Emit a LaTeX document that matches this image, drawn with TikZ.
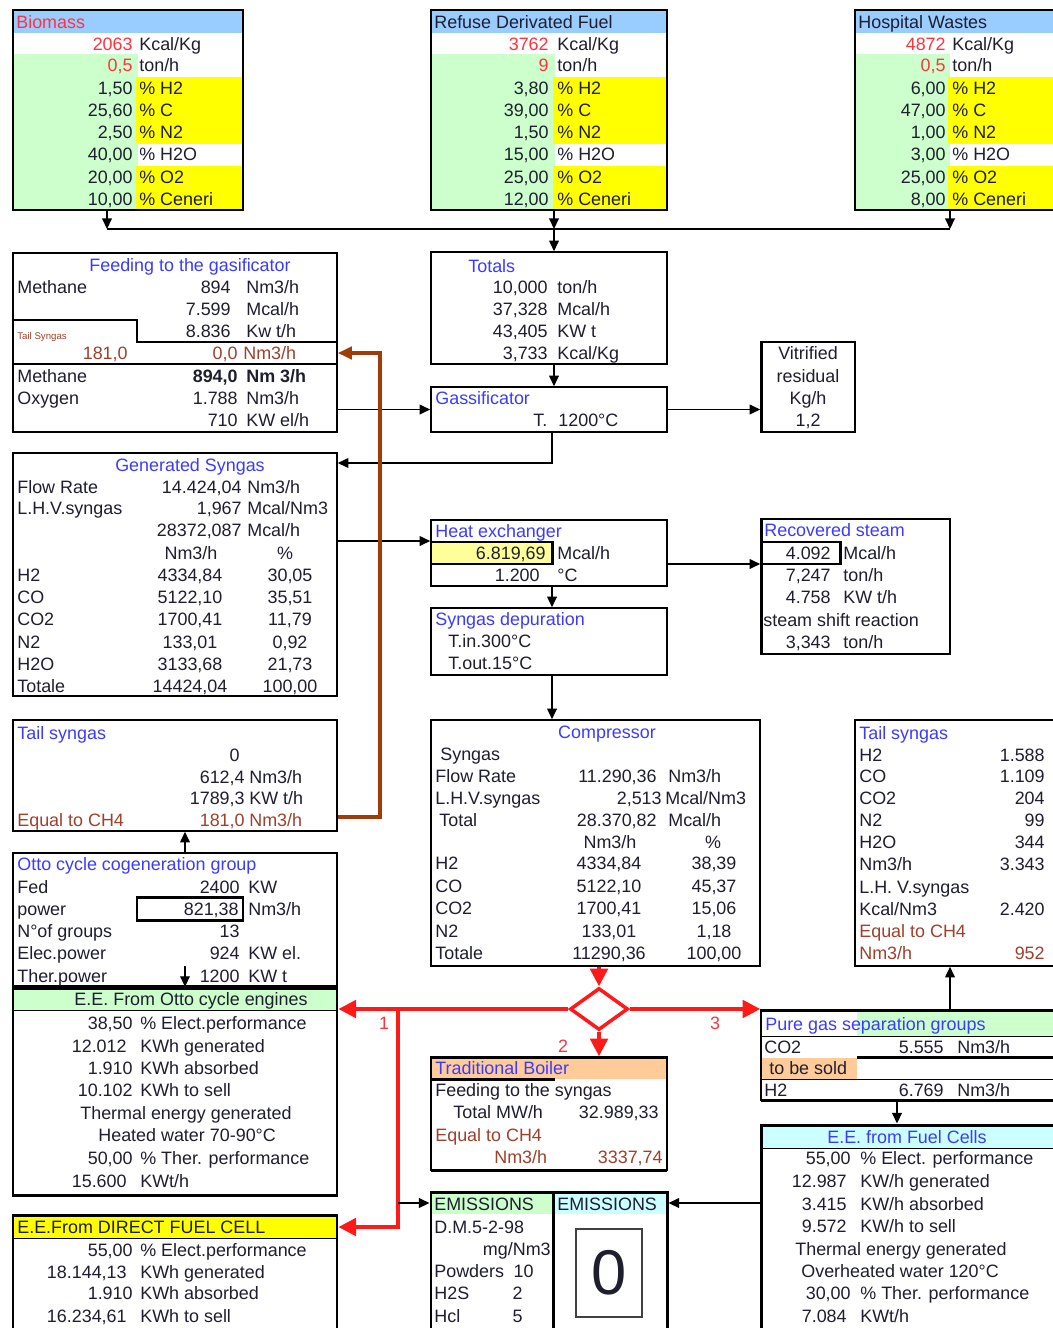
\documentclass[tikz,border=0pt]{standalone}
\usepackage{fontspec}
\setmainfont{Liberation Sans}
\usetikzlibrary{arrows.meta,fit,shapes.geometric}
\definecolor{ink}{HTML}{1E1E2E}
\definecolor{tblue}{HTML}{3B3BFF}
\definecolor{tred}{HTML}{FF3340}
\definecolor{tbrown}{HTML}{A0402A}
\definecolor{hdblue}{HTML}{99CCFF}
\definecolor{lgreen}{HTML}{CCFFCC}
\definecolor{ylw}{HTML}{FFFF00}
\definecolor{lylw}{HTML}{FFFF99}
\definecolor{lorange}{HTML}{FFCC99}
\definecolor{lcyan}{HTML}{CCFFFF}
\definecolor{pipe}{HTML}{A03C0A}
\definecolor{flow}{HTML}{FF1A1A}
\newcommand\fs{\fontsize{10.2}{11}\selectfont}
\newcounter{tn}
% text label: style, position, text
\newcommand\tlab[3]{\stepcounter{tn}\node[#1] (t\arabic{tn}) at (#2) {#3};}
% value/unit pair: [style] value-right-x, unit-left-x, y, value, unit
\newcommand\rw[6][]{\tlab{rgt,#1}{#2,#4}{#5}\tlab{lft,#1}{#3,#4}{#6}}
% three-column row: label-x, col1-x, col2-x, y, label, col1, col2
\newcommand\rwthree[7]{\tlab{lft}{#1,#4}{#5}\tlab{ctr}{#2,#4}{#6}\tlab{ctr}{#3,#4}{#7}}
% framed box: [style] name, corner, corner
\newcommand\bx[4][]{\node[box,#1,fit={(#3) (#4)}] (#2) {};}
\tikzset{
  txtbase/.style={inner sep=0pt, font=\fs, text=ink, yshift=-1pt},
  lft/.style={txtbase, anchor=mid west},
  rgt/.style={txtbase, anchor=mid east},
  ctr/.style={txtbase, anchor=mid},
  blu/.style={text=tblue},
  rd/.style={text=tred},
  brn/.style={text=tbrown},
  box/.style={draw=black, line width=0.9pt, inner sep=0pt},
  heavy/.style={line width=1.7pt},
  arr/.style={draw=black, line width=0.8pt, -{Triangle[length=6pt,width=5.5pt]}},
  redarr/.style={draw=flow, line width=2pt, -{Triangle[length=10pt,width=10pt]}},
  pipearr/.style={draw=pipe, line width=2pt, -{Triangle[length=8pt,width=7pt]}}
}
\begin{document}
\begin{tikzpicture}[x=0.02cm, y=-0.02cm]
\useasboundingbox (0,0) rectangle (1052,1328);
\fill[white] (0,0) rectangle (1052,1328);

% ---------- fuel sources ----------
\fill[hdblue] (13,10) rectangle (243,33);
\fill[lgreen] (13,54) rectangle (138,210);
\fill[ylw] (136,77) rectangle (243,144);
\fill[ylw] (136,166) rectangle (243,210);
\bx{bio}{13,10}{243,210}
\tlab{lft,rd}{16,22}{Biomass}
\tlab{rgt,rd}{133,44}{2063}\tlab{lft}{139,44}{Kcal/Kg}
\tlab{rgt,rd}{133,65}{0,5}\tlab{lft}{139,65}{ton/h}
\rw{133}{139}{88}{1,50}{\% H2}
\rw{133}{139}{110}{25,60}{\% C}
\rw{133}{139}{132}{2,50}{\% N2}
\rw{133}{139}{154}{40,00}{\% H2O}
\rw{133}{139}{177}{20,00}{\% O2}
\rw{133}{139}{199}{10,00}{\% Ceneri}

\fill[hdblue] (431,10) rectangle (667,33);
\fill[lgreen] (431,54) rectangle (555,210);
\fill[ylw] (553,77) rectangle (667,144);
\fill[ylw] (553,166) rectangle (667,210);
\bx{rdf}{431,10}{667,210}
\tlab{lft}{434,22}{Refuse Derivated Fuel}
\tlab{rgt,rd}{549,44}{3762}\tlab{lft}{557,44}{Kcal/Kg}
\tlab{rgt,rd}{549,65}{9}\tlab{lft}{557,65}{ton/h}
\rw{549}{557}{88}{3,80}{\% H2}
\rw{549}{557}{110}{39,00}{\% C}
\rw{549}{557}{132}{1,50}{\% N2}
\rw{549}{557}{154}{15,00}{\% H2O}
\rw{549}{557}{177}{25,00}{\% O2}
\rw{549}{557}{199}{12,00}{\% Ceneri}

\fill[hdblue] (855,10) rectangle (1060,33);
\fill[lgreen] (855,54) rectangle (950,210);
\fill[ylw] (948,77) rectangle (1060,144);
\fill[ylw] (948,166) rectangle (1060,210);
\bx{hosp}{855,10}{1060,210}
\tlab{lft}{858,22}{Hospital Wastes}
\tlab{rgt,rd}{946,44}{4872}\tlab{lft}{952,44}{Kcal/Kg}
\tlab{rgt,rd}{946,65}{0,5}\tlab{lft}{952,65}{ton/h}
\rw{946}{952}{88}{6,00}{\% H2}
\rw{946}{952}{110}{47,00}{\% C}
\rw{946}{952}{132}{1,00}{\% N2}
\rw{946}{952}{154}{3,00}{\% H2O}
\rw{946}{952}{177}{25,00}{\% O2}
\rw{946}{952}{199}{8,00}{\% Ceneri}

% ---------- feeding to the gasificator ----------
\bx{feed}{13,253}{337,432}
\draw[heavy] (13,253) -- (337,253);
\draw[heavy] (13,320) -- (137,320) -- (137,342) -- (337,342);
\draw[line width=0.9pt] (13,364) -- (337,364);
\tlab{ctr,blu}{190,265}{Feeding to the gasificator}
\tlab{lft}{17,287}{Methane}
\rw{231}{246}{287}{894}{Nm3/h}
\rw{231}{246}{309}{7.599}{Mcal/h}
\rw{231}{246}{331}{8.836}{Kw t/h}
\tlab{lft,brn,font={\fontsize{5.5}{6}\selectfont}}{17,333}{Tail Syngas}
\tlab{rgt,brn}{128,353}{181,0}
\rw[brn]{238}{243}{353}{0,0}{Nm3/h}
\tlab{lft}{17,376}{Methane}
\rw[font=\fs\bfseries]{238}{246}{376}{894,0}{Nm 3/h}
\tlab{lft}{17,398}{Oxygen}
\rw{238}{246}{398}{1.788}{Nm3/h}
\rw{238}{246}{420}{710}{KW el/h}

% ---------- totals / gassificator / residual ----------
\bx{tot}{431,252}{667,364}
\draw[heavy] (431,252) -- (667,252);
\tlab{lft,blu}{468,266}{Totals}
\rw{548}{557}{287}{10,000}{ton/h}
\rw{548}{557}{309}{37,328}{Mcal/h}
\rw{548}{557}{331}{43,405}{KW t}
\rw{548}{557}{353}{3,733}{Kcal/Kg}

\bx{gas}{431,387}{667,432}
\tlab{lft,blu}{435,398}{Gassificator}
\tlab{lft}{533,420}{T.}\tlab{lft}{558,420}{1200°C}

\bx{vit}{761,342}{855,432}
\draw[heavy] (761,432) -- (761,342) -- (855,342);
\tlab{ctr}{808,353}{Vitrified}
\tlab{ctr}{808,376}{residual}
\tlab{ctr}{808,398}{Kg/h}
\tlab{ctr}{808,420}{1,2}

% ---------- generated syngas ----------
\bx{gen}{13,453}{337,696}
\tlab{ctr,blu}{190,465}{Generated Syngas}
\tlab{lft}{17,487}{Flow Rate}\rw{242}{247}{487}{14.424,04}{Nm3/h}
\tlab{lft}{17,508}{L.H.V.syngas}\rw{242}{247}{508}{1,967}{Mcal/Nm3}
\rw{242}{247}{530}{28372,087}{Mcal/h}
\tlab{ctr}{191,553}{Nm3/h}\tlab{ctr}{285,553}{\%}
\rwthree{17}{190}{290}{575}{H2}{4334,84}{30,05}
\rwthree{17}{190}{290}{597}{CO}{5122,10}{35,51}
\rwthree{17}{190}{290}{619}{CO2}{1700,41}{11,79}
\rwthree{17}{190}{290}{642}{N2}{133,01}{0,92}
\rwthree{17}{190}{290}{664}{H2O}{3133,68}{21,73}
\rwthree{17}{190}{290}{686}{Totale}{14424,04}{100,00}

% ---------- heat exchanger / steam / depuration ----------
\fill[lylw] (431,542) rectangle (552,564);
\bx{hx}{431,520}{667,586}
\draw[heavy] (431,542) rectangle (552,564);
\tlab{lft,blu}{435,531}{Heat exchanger}
\rw{546}{557}{553}{6.819,69}{Mcal/h}
\rw{540}{557}{575}{1.200}{°C}

\bx{steam}{761,519}{950,654}
\draw[heavy] (761,519) -- (761,654);
\draw[heavy] (761,542) rectangle (840,564);
\tlab{lft,blu}{764,530}{Recovered steam}
\rw{831}{843}{553}{4.092}{Mcal/h}
\rw{831}{843}{575}{7,247}{ton/h}
\rw{831}{843}{597}{4.758}{KW t/h}
\tlab{lft}{763,620}{steam shift reaction}
\rw{831}{843}{642}{3,343}{ton/h}

\bx{dep}{431,608}{667,675}
\tlab{lft,blu}{435,619}{Syngas depuration}
\tlab{lft}{448,641}{T.in.300°C}
\tlab{lft}{448,663}{T.out.15°C}

% ---------- compressor ----------
\bx{comp}{431,720}{760,966}
\tlab{ctr,blu}{607,732}{Compressor}
\tlab{lft}{440,754}{Syngas}
\tlab{lft}{435,776}{Flow Rate}\rw{657}{668}{776}{11.290,36}{Nm3/h}
\tlab{lft}{435,798}{L.H.V.syngas}\rw{662}{665}{798}{2,513}{Mcal/Nm3}
\tlab{lft}{439,820}{Total}\rw{657}{668}{820}{28.370,82}{Mcal/h}
\tlab{ctr}{610,842}{Nm3/h}\tlab{ctr}{713,842}{\%}
\rwthree{435}{609}{714}{863}{H2}{4334,84}{38,39}
\rwthree{435}{609}{714}{886}{CO}{5122,10}{45,37}
\rwthree{435}{609}{714}{908}{CO2}{1700,41}{15,06}
\rwthree{435}{609}{714}{931}{N2}{133,01}{1,18}
\rwthree{435}{609}{714}{953}{Totale}{11290,36}{100,00}

% ---------- tail syngas (left) and Otto group ----------
\bx{tailL}{13,720}{337,831}
\tlab{lft,blu}{17,733}{Tail syngas}
\tlab{rgt}{240,755}{0}
\rw{245}{249}{777}{612,4}{Nm3/h}
\rw{245}{249}{798}{1789,3}{KW t/h}
\tlab{lft,brn}{17,820}{Equal to CH4}
\rw[brn]{245}{249}{820}{181,0}{Nm3/h}

\bx{otto}{13,853}{337,986}
\draw[heavy] (137,897) rectangle (243,920);
\tlab{lft,blu}{17,864}{Otto cycle cogeneration group}
\tlab{lft}{17,887}{Fed}\rw{240}{248}{887}{2400}{KW}
\tlab{lft}{17,909}{power}\rw{239}{248}{909}{821,38}{Nm3/h}
\tlab{lft}{17,931}{N°of groups}\tlab{rgt}{240,931}{13}
\tlab{lft}{17,953}{Elec.power}\rw{240}{248}{953}{924}{KW el.}
\tlab{lft}{17,976}{Ther.power}\rw{240}{248}{976}{1200}{KW t}

% ---------- tail syngas (right) ----------
\bx{tailR}{855,720}{1060,966}
\tlab{lft,blu}{859,733}{Tail syngas}
\tlab{lft}{859,755}{H2}\tlab{rgt}{1045,755}{1.588}
\tlab{lft}{859,776}{CO}\tlab{rgt}{1045,776}{1.109}
\tlab{lft}{859,798}{CO2}\tlab{rgt}{1045,798}{204}
\tlab{lft}{859,820}{N2}\tlab{rgt}{1045,820}{99}
\tlab{lft}{859,842}{H2O}\tlab{rgt}{1045,842}{344}
\tlab{lft}{859,864}{Nm3/h}\tlab{rgt}{1045,864}{3.343}
\tlab{lft}{859,887}{L.H. V.syngas}
\tlab{lft}{859,909}{Kcal/Nm3}\tlab{rgt}{1045,909}{2.420}
\tlab{lft,brn}{859,931}{Equal to CH4}
\tlab{lft,brn}{859,953}{Nm3/h}\tlab{rgt,brn}{1045,953}{952}

% ---------- electric energy from Otto engines ----------
\fill[lgreen] (13,990) rectangle (337,1010);
\bx[heavy]{eeotto}{13,988}{337,1195}
\draw (13,1010) -- (337,1010);
\tlab{ctr}{191,999}{E.E. From Otto cycle engines}
\rw{133}{140}{1023}{38,50}{\% Elect.performance}
\rw{127}{140}{1046}{12.012}{KWh generated}
\rw{133}{140}{1068}{1.910}{KWh absorbed}
\rw{133}{140}{1090}{10.102}{KWh to sell}
\tlab{lft}{80,1113}{Thermal energy generated}
\tlab{lft}{98,1135}{Heated water 70-90°C}
\rw{133}{140}{1158}{50,00}{\% Ther. performance}
\rw{127}{140}{1181}{15.600}{KWt/h}

% ---------- electric energy from direct fuel cell ----------
\fill[ylw] (13,1217) rectangle (337,1238);
\bx[heavy]{eedfc}{13,1215}{337,1335}
\draw (13,1238) -- (337,1238);
\tlab{lft}{17,1227}{E.E.From DIRECT FUEL CELL}
\rw{133}{140}{1250}{55,00}{\% Elect.performance}
\rw{127}{140}{1272}{18.144,13}{KWh generated}
\rw{133}{140}{1293}{1.910}{KWh absorbed}
\rw{127}{140}{1316}{16.234,61}{KWh to sell}

% ---------- traditional boiler ----------
\fill[lorange] (431,1058) rectangle (667,1079);
\bx{boiler}{431,1057}{667,1170}
\draw[heavy] (431,1057) -- (667,1057);
\draw[heavy] (431,1079) -- (555,1079);
\draw[heavy] (431,1170) -- (667,1170);
\tlab{lft,blu}{435,1068}{Traditional Boiler}
\tlab{lft}{435,1090}{Feeding to the syngas}
\tlab{lft}{453,1112}{Total MW/h}\tlab{rgt}{659,1112}{32.989,33}
\tlab{lft,brn}{435,1135}{Equal to CH4}
\tlab{lft,brn}{494,1157}{Nm3/h}\tlab{rgt,brn}{663,1157}{3337,74}

% ---------- pure gas separation ----------
\fill[lgreen] (857,1011) rectangle (1060,1036);
\fill[lorange] (761,1058) rectangle (857,1079);
\bx{pure}{761,1010}{1060,1100}
\draw[heavy] (761,1010) -- (1060,1010);
\draw (761,1036) -- (1060,1036);
\draw[heavy] (857,1057) -- (1060,1057);
\draw (761,1079) -- (1060,1079);
\draw[heavy] (761,1100) -- (1060,1100);
\tlab{lft,blu}{765,1024}{Pure gas separation groups}
\tlab{lft}{764,1047}{CO2}\rw{944}{957}{1047}{5.555}{Nm3/h}
\tlab{lft}{769,1068}{to be sold}
\tlab{lft}{764,1090}{H2}\rw{944}{957}{1090}{6.769}{Nm3/h}

% ---------- electric energy from fuel cells ----------
\fill[lcyan] (761,1127) rectangle (1060,1148);
\bx[heavy]{eefc}{761,1125}{1060,1335}
\draw (761,1148) -- (1060,1148);
\tlab{ctr,blu}{907,1137}{E.E. from Fuel Cells}
\rw{851}{860}{1158}{55,00}{\% Elect. performance}
\rw{847}{860}{1181}{12.987}{KW/h generated}
\rw{847}{860}{1204}{3.415}{KW/h absorbed}
\rw{847}{860}{1226}{9.572}{KW/h to sell}
\tlab{lft}{795,1249}{Thermal energy generated}
\tlab{lft}{801,1271}{Overheated water 120°C}
\rw{851}{860}{1293}{30,00}{\% Ther. performance}
\rw{847}{860}{1316}{7.084}{KWt/h}

% ---------- emissions ----------
\fill[lgreen] (431,1193) rectangle (553,1214);
\fill[lcyan] (553,1193) rectangle (667,1214);
\bx[heavy]{emL}{431,1192}{553,1335}
\bx[heavy]{emR}{553,1192}{667,1335}
\tlab{lft}{434,1204}{EMISSIONS}
\tlab{lft}{557,1204}{EMISSIONS}
\tlab{lft}{434,1227}{D.M.5-2-98}
\tlab{rgt}{551,1249}{mg/Nm3}
\tlab{lft}{434,1271}{Powders}\tlab{rgt}{534,1271}{10}
\tlab{lft}{434,1293}{H2S}\tlab{rgt}{523,1293}{2}
\tlab{lft}{434,1316}{Hcl}\tlab{rgt}{523,1316}{5}
\node[draw=black!75, line width=0.8pt, inner sep=0pt, fit={(576,1229) (642,1317)}] (zero) {};
\node[inner sep=0pt, text=ink, font={\fontsize{36}{40}\selectfont}] (zerotxt) at (zero.center) {0};

% ---------- splitter ----------
\node[diamond, draw=flow, fill=white, line width=2pt, inner sep=0pt,
      minimum width=1.16cm, minimum height=0.84cm] (split) at (599,1009) {};
\tlab{ctr,rd}{384,1023}{1}
\tlab{ctr,rd}{563,1046}{2}
\tlab{ctr,rd}{715,1023}{3}

% ---------- connectors ----------
\coordinate (busL) at (107,229);
\coordinate (busM) at (554,229);
\coordinate (busR) at (950,229);
\draw[line width=0.9pt] (busL) -- (busR);
\draw[arr] (bio.south -| busL) -- (busL);
\draw[arr] (rdf.south -| busM) -- (busM);
\draw[arr] (hosp.south -| busR) -- (busR);
\draw[arr] (busM) -- (tot.north -| busM);
\draw[arr] (tot.south -| busM) -- (gas.north -| busM);
\draw[arr] (feed.east |- gas.west) -- (gas.west);
\draw[arr] (gas.east) -- (gas.east -| vit.west);
\coordinate (g1) at (552,463);
\draw[arr] (gas.south -| g1) -- (g1) -- (gen.east |- g1);
\coordinate (g2) at (0,541);
\draw[arr] (gen.east |- g2) -- (hx.west |- g2);
\coordinate (g3) at (0,564);
\draw[arr] (hx.east |- g3) -- (steam.west |- g3);
\coordinate (g4) at (552,0);
\draw[arr] (hx.south -| g4) -- (dep.north -| g4);
\draw[arr] (dep.south -| g4) -- (comp.north -| g4);
\coordinate (g5) at (185,0);
\draw[arr] (otto.north -| g5) -- (tailL.south -| g5);
\coordinate (g6) at (185,966);
\draw[arr] (g6) -- (otto.south -| g6);
\coordinate (g7) at (0,817);
\coordinate (g8) at (380,353);
\draw[pipearr] (tailL.east |- g7) -| (g8) -- (feed.east |- g8);
\coordinate (g9) at (950,0);
\draw[arr] (pure.north -| g9) -- (tailR.south -| g9);
\coordinate (g10) at (897,0);
\draw[arr] (pure.south -| g10) -- (eefc.north -| g10);

\draw[redarr] (comp.south -| split) -- (split.north);
\draw[redarr] (split.west) -- (split.west -| eeotto.east);
\coordinate (r1) at (398,1009);
\coordinate (r2) at (398,1227);
\draw[redarr] (r1) -- (r2) -- (eedfc.east |- r2);
\draw[redarr] (split.south) -- (split.south |- boiler.north);
\draw[redarr] (split.east) -- (split.east -| pure.west);
\coordinate (r3) at (398,1203);
\draw[arr] (r3) -- (emL.west |- r3);
\draw[arr] (eefc.west |- r3) -- (emR.east |- r3);
\end{tikzpicture}
\end{document}
